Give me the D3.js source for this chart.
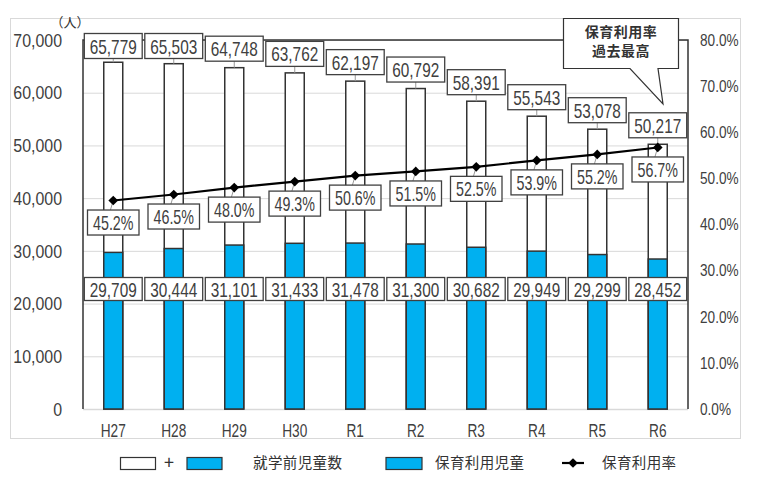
<!DOCTYPE html>
<html><head><meta charset="utf-8">
<script src="https://cdn.jsdelivr.net/npm/d3@7"></script>
<style>
html,body{margin:0;padding:0;background:#fff;}
svg{display:block;}
.num{font-family:"Liberation Sans Narrow","Liberation Sans","DejaVu Sans",sans-serif;fill:#404040;}
.jp{font-family:"Noto Sans CJK JP","Noto Sans CJK SC",sans-serif;fill:#333;}
</style></head>
<body>
<svg id="c" width="760" height="479"></svg>
<script>
const categories = ["H27","H28","H29","H30","R1","R2","R3","R4","R5","R6"];
const totals = [65779,65503,64748,63762,62197,60792,58391,55543,53078,50217];
const users  = [29709,30444,31101,31433,31478,31300,30682,29949,29299,28452];
const rates  = [45.2,46.5,48.0,49.3,50.6,51.5,52.5,53.9,55.2,56.7];
const leftTicks = [0,10000,20000,30000,40000,50000,60000,70000];
const rightTicks = [0,10,20,30,40,50,60,70,80];
const legendLabels = ["就学前児童数","保育利用児童","保育利用率"];
const calloutLines = ["保育利用率","過去最高"];
const unitLabel = "（人）";

const BLUE = "#00b0f0";
const svg = d3.select("#c");
const m = {l:83, r:688, t:40, b:409};

const x = d3.scaleBand().domain(categories).range([m.l, m.r]).paddingInner(0).paddingOuter(0);
const yL = d3.scaleLinear().domain([0,70000]).range([m.b, m.t]);
const yR = d3.scaleLinear().domain([0,80]).range([m.b, m.t]);
const fmt = d3.format(",");
const barW = 19;
const cx = d => x(d) + x.bandwidth()/2;

function condense(sel, f){
  sel.each(function(){
    const w = this.getComputedTextLength();
    d3.select(this).attr("textLength", w*f).attr("lengthAdjust","spacingAndGlyphs");
  });
}

// outer border
svg.append("rect").attr("x",10.5).attr("y",18.5).attr("width",730).attr("height",420)
  .attr("fill","none").attr("stroke","#d9d9d9");

// gridlines
svg.append("g").selectAll("line").data(leftTicks.slice(1)).join("line")
  .attr("x1",m.l).attr("x2",m.r).attr("y1",d=>yL(d)+0.5).attr("y2",d=>yL(d)+0.5)
  .attr("stroke","#d9d9d9").attr("stroke-width",1);
svg.append("line").attr("x1",m.l).attr("x2",m.r).attr("y1",m.b+0.5).attr("y2",m.b+0.5)
  .attr("stroke","#d9d9d9").attr("stroke-width",1.5);

// left axis labels
const lt = svg.append("g").selectAll("text").data(leftTicks).join("text")
  .attr("class","num").attr("x",62).attr("y",d=>yL(d)).attr("dy","0.36em")
  .attr("text-anchor","end").attr("font-size",18.5).text(d=>fmt(d));
condense(lt,0.86);
// right axis labels
const rt = svg.append("g").selectAll("text").data(rightTicks).join("text")
  .attr("class","num").attr("x",700).attr("y",d=>yR(d)).attr("dy","0.36em")
  .attr("text-anchor","start").attr("font-size",16).attr("fill","#555").text(d=>d.toFixed(1)+"%");
condense(rt,0.85);
// x labels
const xt = svg.append("g").selectAll("text").data(categories).join("text")
  .attr("class","num").attr("x",d=>cx(d)).attr("y",431).attr("dy","0.36em")
  .attr("text-anchor","middle").attr("font-size",17.5).text(d=>d);
condense(xt,0.78);
// unit
svg.append("text").attr("class","jp").attr("x",70).attr("y",22).attr("dy","0.36em")
  .attr("text-anchor","middle").attr("font-size",13).attr("fill","#555").text(unitLabel);

// bars
const data = categories.map((c,i)=>({c, t:totals[i], u:users[i], r:rates[i]}));
svg.append("g").selectAll("rect").data(data).join("rect")
  .attr("x",d=>cx(d.c)-barW/2).attr("y",d=>yL(d.t)).attr("width",barW)
  .attr("height",d=>m.b-yL(d.t)).attr("fill","#fff").attr("stroke","#333").attr("stroke-width",1.5);
svg.append("g").selectAll("rect").data(data).join("rect")
  .attr("x",d=>cx(d.c)-barW/2).attr("y",d=>yL(d.u)).attr("width",barW)
  .attr("height",d=>m.b-yL(d.u)).attr("fill",BLUE).attr("stroke","#333").attr("stroke-width",1.5);

// plot frame (top, left, right)
svg.append("path").attr("d",`M${m.l},${m.b}V${m.t}H${m.r}V${m.b}`)
  .attr("fill","none").attr("stroke","#333").attr("stroke-width",1.5);

// line
const line = d3.line().x(d=>cx(d.c)).y(d=>yR(d.r));
svg.append("path").datum(data).attr("d",line).attr("fill","none").attr("stroke","#000").attr("stroke-width",2.2);

function boxLabel(g, tx, ty, text, fs, factor, h){
  const t = g.append("text").attr("class","num").attr("x",tx).attr("y",ty).attr("dy","0.36em")
    .attr("text-anchor","middle").attr("font-size",fs).text(text);
  condense(t,factor);
  const w = +t.attr("textLength") + 11;
  g.insert("rect","text").attr("x",tx-w/2).attr("y",ty-h/2).attr("width",w).attr("height",h)
    .attr("fill","#fff").attr("stroke","#404040").attr("stroke-width",1.3);
}

// total labels
data.forEach(d=>{
  const by = Math.max(yL(d.t)-19, 46);
  const g = svg.append("g");
  g.append("line").attr("x1",cx(d.c)).attr("x2",cx(d.c)).attr("y1",by+12).attr("y2",yL(d.t))
    .attr("stroke","#999").attr("stroke-width",1);
  boxLabel(g, cx(d.c), by, fmt(d.t), 21, 0.73, 25);
});
// user labels
data.forEach(d=>{
  boxLabel(svg.append("g"), cx(d.c), 289, fmt(d.u), 21, 0.73, 23);
});
// rate labels
data.forEach(d=>{
  const py = yR(d.r), by = py + 22;
  const g = svg.append("g");
  g.append("line").attr("x1",cx(d.c)).attr("x2",cx(d.c)-3).attr("y1",py).attr("y2",by-12)
    .attr("stroke","#999").attr("stroke-width",1);
  boxLabel(g, cx(d.c), by, d.r.toFixed(1)+"%", 21, 0.68, 25);
});
// markers
svg.append("g").selectAll("path").data(data).join("path")
  .attr("transform",d=>`translate(${cx(d.c)},${yR(d.r)})`)
  .attr("d",d3.symbol(d3.symbolDiamond2,60)).attr("fill","#000");

// callout
svg.append("path").attr("d","M563.5,18.5H678.5V68.5H658L663,104L630,68.5H563.5Z")
  .attr("fill","#fff").attr("stroke","#333").attr("stroke-width",1.2);
calloutLines.forEach((s,i)=>{
  svg.append("text").attr("class","jp").attr("x",621).attr("y",32+i*19).attr("dy","0.36em")
    .attr("text-anchor","middle").attr("font-size",14).attr("font-weight","bold")
    .attr("letter-spacing",0.5).attr("fill","#111").text(s);
});

// legend
const lg = svg.append("g");
lg.append("rect").attr("x",120.5).attr("y",457.5).attr("width",35).attr("height",12)
  .attr("fill","#fff").attr("stroke","#333").attr("stroke-width",1.2);
lg.append("text").attr("class","jp").attr("x",169).attr("y",463).attr("dy","0.36em")
  .attr("text-anchor","middle").attr("font-size",18).text("+");
lg.append("rect").attr("x",187).attr("y",457.5).attr("width",35).attr("height",12)
  .attr("fill",BLUE).attr("stroke","#333").attr("stroke-width",1.2);
lg.append("text").attr("class","jp").attr("x",253).attr("y",463).attr("dy","0.36em")
  .attr("font-size",14.5).attr("letter-spacing",0.4).text(legendLabels[0]);
lg.append("rect").attr("x",386).attr("y",457.5).attr("width",36).attr("height",12)
  .attr("fill",BLUE).attr("stroke","#333").attr("stroke-width",1.2);
lg.append("text").attr("class","jp").attr("x",435).attr("y",463).attr("dy","0.36em")
  .attr("font-size",14.5).attr("letter-spacing",0.4).text(legendLabels[1]);
lg.append("line").attr("x1",562).attr("x2",584).attr("y1",463).attr("y2",463)
  .attr("stroke","#000").attr("stroke-width",2.2);
lg.append("path").attr("transform","translate(573,463)")
  .attr("d",d3.symbol(d3.symbolDiamond2,60)).attr("fill","#000");
lg.append("text").attr("class","jp").attr("x",602).attr("y",463).attr("dy","0.36em")
  .attr("font-size",14.5).attr("letter-spacing",0.4).text(legendLabels[2]);
</script>
</body></html>
